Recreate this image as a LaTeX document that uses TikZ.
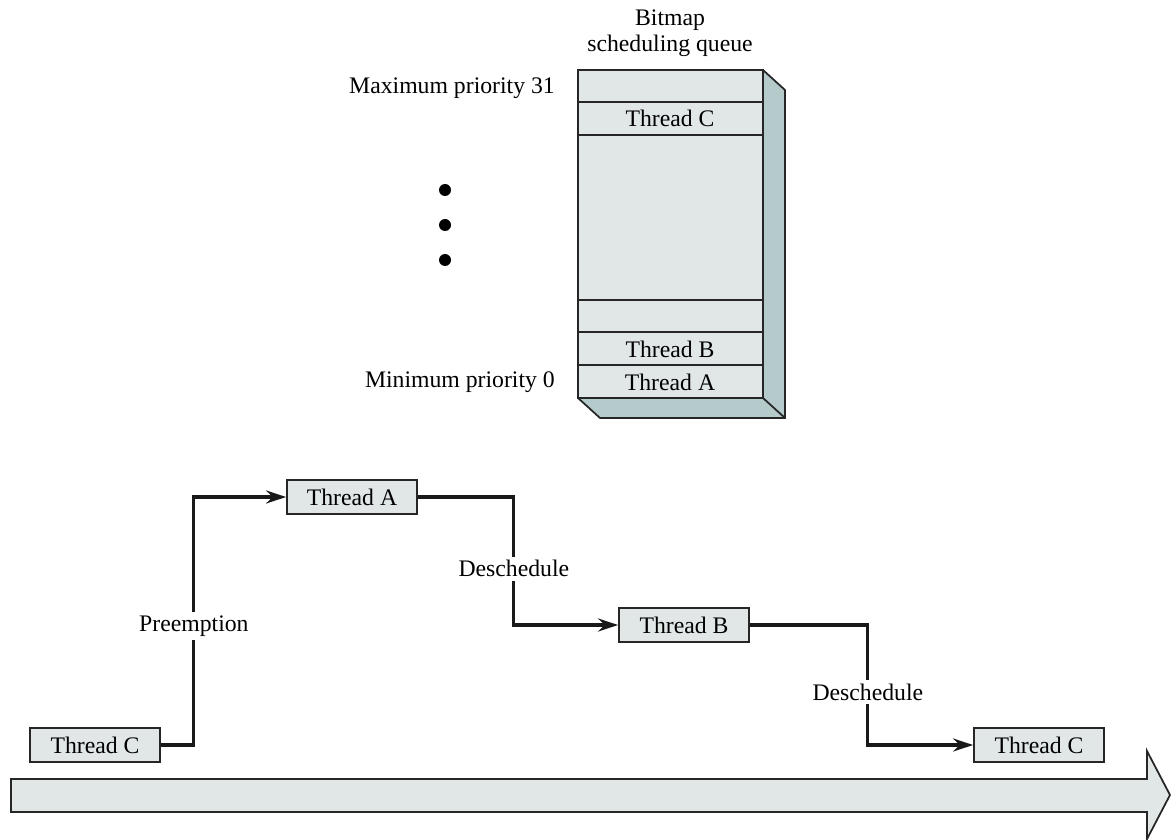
\documentclass[tikz,border=0pt]{standalone}
\usepackage{fontspec}
\setmainfont{Liberation Serif}
\usepackage{xcolor}
\usepackage{tikz}
\usetikzlibrary{calc,arrows.meta}
\definecolor{qfront}{HTML}{E1E7E7}
\definecolor{qside}{HTML}{B5CBCB}
\tikzset{
  threadbox/.style={draw=black!85,line width=1pt,fill=qfront,minimum width=26mm,minimum height=6.8mm,inner sep=0pt},
  flow/.style={draw=black!90,line width=1.8pt,-{Stealth[length=4mm,width=2.6mm]}},
  tag/.style={fill=white,inner sep=2pt}
}

\begin{document}
\begin{tikzpicture}[x=0.2mm,y=-0.2mm,font=\fontsize{13.5}{15}\selectfont]
  \useasboundingbox (0,0) rectangle (1172,840);
  \fill[qside] (763,70) -- (785,90) -- (785,418) -- (600,418) -- (578,398) -- (763,398) -- cycle;
  \draw[black!85,line width=1pt] (763,70) -- (785,90) -- (785,418) -- (600,418) -- (578,398);
  \draw[black!85,line width=1pt] (763,398) -- (785,418);
  \fill[qfront] (578,70) rectangle (763,398);
  \draw[black!85,line width=1pt] (578,70) rectangle (763,398);
  \foreach \y in {102,135,300,332,365}
    \draw[black!85,line width=1pt] (578,\y) -- (763,\y);
  \node (qc) at (670,118) {Thread C};
  \node (qb) at (670,349) {Thread B};
  \node (qa) at (670,382) {Thread A};
  \node[align=center] (title) at (670,33) {Bitmap\\scheduling queue};
  \node[anchor=east] (maxp) at (561,88) {Maximum priority 31};
  \node[anchor=east] (minp) at (561,382) {Minimum priority 0};
  \foreach \y in {190,225,260}
    \fill (445,\y) circle (6);

  \node[threadbox] (c1) at (95,745) {Thread C};
  \node[threadbox] (a) at (352,497) {Thread A};
  \node[threadbox] (b) at (684,625) {Thread B};
  \node[threadbox] (c2) at (1039,745) {Thread C};
  \draw[flow] (c1.east) -- ++(33,0) |- (a.west) node[pos=0.24,tag] {Preemption};
  \draw[flow] (a.east) -- ++(96,0) |- (b.west) node[pos=0.28,tag] {Deschedule};
  \draw[flow] (b.east) -- ++(118,0) |- (c2.west) node[pos=0.28,tag] {Deschedule};

  \draw[black!85,line width=1pt,fill=qfront] (11,779) -- (1147,779) -- (1147,751) -- (1170,795) -- (1147,839) -- (1147,812) -- (11,812) -- cycle;
\end{tikzpicture}
\end{document}
